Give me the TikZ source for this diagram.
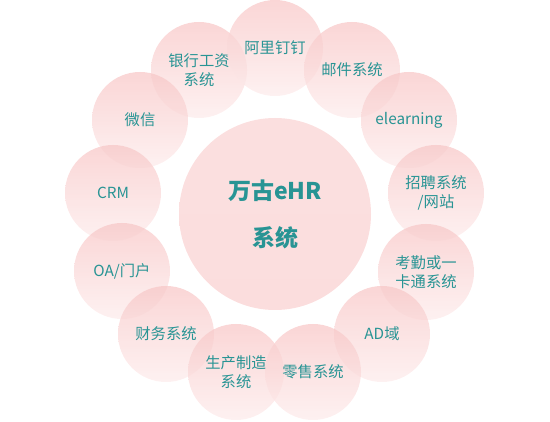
\documentclass[tikz,border=0pt]{standalone}
\usepackage{fontspec}
\setmainfont{Noto Sans CJK SC}
\definecolor{teal1}{RGB}{40,148,148}
\definecolor{pinktop}{RGB}{248,200,200}
\definecolor{pinkbot}{RGB}{253,236,236}
\definecolor{pinkmid}{RGB}{251,220,220}
\tikzset{
  sat/.style={circle, minimum size=96pt, inner sep=0pt, top color=pinktop, bottom color=pinkbot,
    fill opacity=0.75, text opacity=1, draw=none, text=teal1, align=center,
    font=\fontsize{15.3}{19}\selectfont},
  hub/.style={circle, minimum size=192pt, inner sep=0pt, top color=pinkmid, bottom color=pinkmid!85!pinktop,
    fill opacity=0.9, text opacity=1, draw=none, text=teal1, align=center,
    font=\fontsize{23}{47}\selectfont\bfseries}
}
\begin{document}
\begin{tikzpicture}[x=1pt,y=-1pt]
\useasboundingbox (0,0) rectangle (550,422);
\node[sat] (yh) at (199,70) {银行工资\\系统};
\node[sat] (al) at (275,48) {阿里钉钉};
\node[sat] (yj) at (352,70) {邮件系统};
\node[sat] (el) at (409,120) {elearning};
\node[sat] (wx) at (140,120) {微信};
\node[sat] (crm) at (113,193) {CRM};
\node[sat] (zp) at (436,193) {招聘系统\\/网站};
\node[sat] (oa) at (122,271) {OA/门户};
\node[sat] (kq) at (426,272) {考勤或一\\卡通系统};
\node[sat] (cw) at (166,334) {财务系统};
\node[sat] (ad) at (382,334) {AD域};
\node[sat] (sc) at (236,372) {生产制造\\系统};
\node[sat] (ls) at (313,372) {零售系统};
\node[hub] (c) at (275,214) {万古eHR\\系统};
\end{tikzpicture}
\end{document}
